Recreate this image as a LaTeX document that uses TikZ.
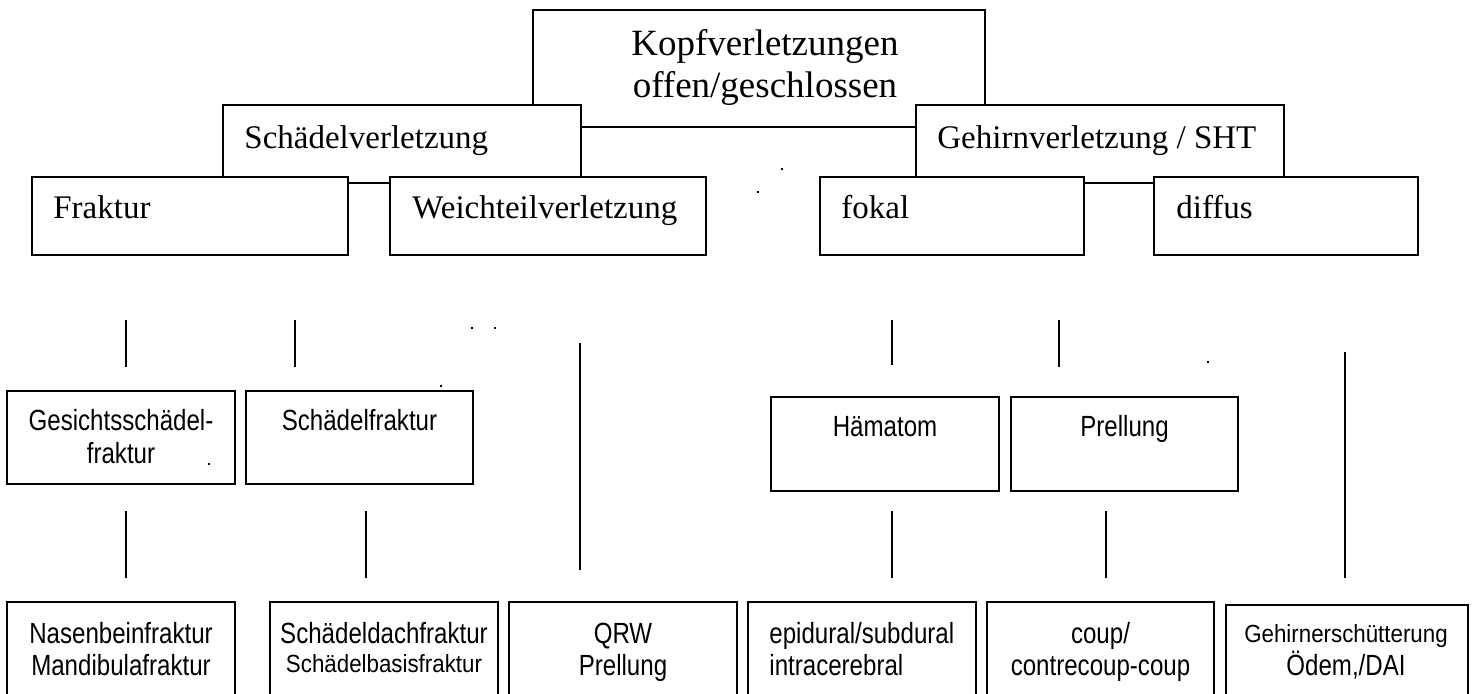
\documentclass[tikz,border=0pt]{standalone}
\usepackage{fontspec}
\setmainfont{Liberation Serif}
\newfontfamily\arn[FakeStretch=0.825]{Liberation Sans}
\newfontfamily\arnsm[FakeStretch=0.9]{Liberation Sans}
\begin{document}
\begin{tikzpicture}[x=0.5pt,y=-0.5pt,
  box/.style={draw=black, line width=1pt, fill=white, inner sep=0pt, outer sep=0pt},
  conn/.style={draw=black, line width=0.8pt},
  ser/.style={inner sep=0pt, font=\fontsize{16.5}{19}\selectfont},
  big/.style={inner sep=0pt, font=\fontsize{18.5}{21}\selectfont},
  sans/.style={inner sep=0pt, anchor=base, font=\arn\fontsize{14.6}{17}\selectfont},
  sanssm/.style={inner sep=0pt, anchor=base, font=\arnsm\fontsize{12.4}{15}\selectfont},
  speck/.style={fill=black, inner sep=0pt, minimum size=1pt}]
\useasboundingbox (0,0) rectangle (1476,693);
\clip (0,0) rectangle (1476,693);
\fill[white] (0,0) rectangle (1476,693);
% level 0
\node[box, minimum width=226pt, minimum height=58.5pt] (top) at (759,68.5) {};
\node[big, anchor=base] (topa) at (765,55) {Kopfverletzungen};
\node[big, anchor=base] (topb) at (765,97) {offen/geschlossen};
% level 1
\node[box, minimum width=179pt, minimum height=39pt] (schaedel) at (402,144) {};
\node[ser, anchor=base west] (schaedelt) at (244,148) {Schädelverletzung};
\node[box, minimum width=184pt, minimum height=39pt] (gehirn) at (1100,144) {};
\node[ser, anchor=base west] (gehirnt) at (937,148) {Gehirnverletzung / SHT};
% level 2
\node[box, minimum width=158pt, minimum height=39pt] (fraktur) at (190,216) {};
\node[ser, anchor=base west] (frakturt) at (53,218) {Fraktur};
\node[box, minimum width=158pt, minimum height=39pt] (weich) at (548,216) {};
\node[ser, anchor=base west] (weicht) at (412,218) {Weichteilverletzung};
\node[box, minimum width=132pt, minimum height=39pt] (fokal) at (952,216) {};
\node[ser, anchor=base west] (fokalt) at (841,218) {fokal};
\node[box, minimum width=132pt, minimum height=39pt] (diffus) at (1286,216) {};
\node[ser, anchor=base west] (diffust) at (1176,218) {diffus};
% connector stubs (upper)
\coordinate (l1a) at (126,320); \coordinate (l1b) at (126,367);
\coordinate (l2a) at (295,320); \coordinate (l2b) at (295,367);
\coordinate (l3a) at (580,343); \coordinate (l3b) at (580,570);
\coordinate (r1a) at (892,320); \coordinate (r1b) at (892,365);
\coordinate (r2a) at (1059,320); \coordinate (r2b) at (1059,367);
\coordinate (r3a) at (1345,352); \coordinate (r3b) at (1345,578);
\draw[conn] (l1a) -- (l1b);
\draw[conn] (l2a) -- (l2b);
\draw[conn] (l3a) -- (l3b);
\draw[conn] (r1a) -- (r1b);
\draw[conn] (r2a) -- (r2b);
\draw[conn] (r3a) -- (r3b);
% level 3
\node[box, minimum width=114pt, minimum height=46.5pt] (gesicht) at (121,437.5) {};
\node[sans] (gesichta) at (121,430) {Gesichtsschädel-};
\node[sans] (gesichtb) at (121,463) {fraktur};
\node[box, minimum width=113.5pt, minimum height=46.5pt] (schfrak) at (359.5,437.5) {};
\node[sans] (schfrakt) at (359.5,430) {Schädelfraktur};
\node[box, minimum width=114pt, minimum height=47pt] (haem) at (885,444) {};
\node[sans] (haemt) at (885,436) {Hämatom};
\node[box, minimum width=113.5pt, minimum height=47pt] (prell) at (1124.5,444) {};
\node[sans] (prellt) at (1124.5,436) {Prellung};
% connector stubs (lower)
\coordinate (l4a) at (126,511); \coordinate (l4b) at (126,578);
\coordinate (l5a) at (366,511); \coordinate (l5b) at (366,578);
\coordinate (r4a) at (892,511); \coordinate (r4b) at (892,578);
\coordinate (r5a) at (1106,511); \coordinate (r5b) at (1106,578);
\draw[conn] (l4a) -- (l4b);
\draw[conn] (l5a) -- (l5b);
\draw[conn] (r4a) -- (r4b);
\draw[conn] (r5a) -- (r5b);
% level 4 (cut off at the bottom)
\node[box, minimum width=114pt, minimum height=59pt] (nasen) at (121,661) {};
\node[sans] (nasena) at (121,643) {Nasenbeinfraktur};
\node[sans] (nasenb) at (121,675) {Mandibulafraktur};
\node[box, minimum width=114pt, minimum height=59pt] (dach) at (384,661) {};
\node[sans] (dacha) at (384,643) {Schädeldachfraktur};
\node[sanssm] (dachb) at (384,672) {Schädelbasisfraktur};
\node[box, minimum width=114pt, minimum height=59pt] (qrw) at (623,661) {};
\node[sans] (qrwa) at (623,643) {QRW};
\node[sans] (qrwb) at (623,675) {Prellung};
\node[box, minimum width=114pt, minimum height=59pt] (epi) at (862,661) {};
\node[sans, anchor=base west] (epia) at (769,643) {epidural/subdural};
\node[sans, anchor=base west] (epib) at (769,675) {intracerebral};
\node[box, minimum width=113.5pt, minimum height=59pt] (coup) at (1100.5,661) {};
\node[sans] (coupa) at (1100.5,643) {coup/};
\node[sans] (coupb) at (1100.5,675) {contrecoup-coup};
\node[box, minimum width=121pt, minimum height=57.5pt] (gehs) at (1347,662.5) {};
\node[sanssm] (gehsa) at (1346,642) {Gehirnerschütterung};
\node[sans] (gehsb) at (1346,675) {Ödem,/DAI};
% specks
\node[speck] (s1) at (472,328) {};
\node[speck] (s2) at (495,328) {};
\node[speck] (s3) at (441,386) {};
\node[speck] (s4) at (209,464) {};
\node[speck] (s5) at (782,169) {};
\node[speck] (s6) at (758,192) {};
\node[speck] (s7) at (1208,362) {};
\end{tikzpicture}
\end{document}
